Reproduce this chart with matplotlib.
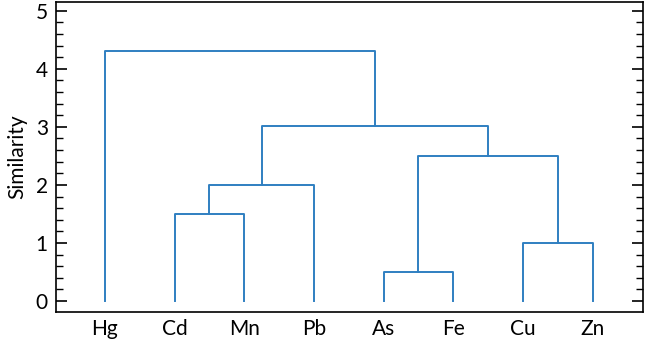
import numpy as np
import matplotlib.pyplot as plt
from matplotlib.ticker import MultipleLocator

plt.rcParams['font.family'] = ['Lato', 'DejaVu Sans']

leaves = ['Hg', 'Cd', 'Mn', 'Pb', 'As', 'Fe', 'Cu', 'Zn']
# merges: (left node, right node, height); new nodes get ids 8, 9, ...
merges = [
    ('As', 'Fe', 0.5),
    ('Cu', 'Zn', 1.0),
    ('Cd', 'Mn', 1.5),
    (10, 'Pb', 2.0),
    (8, 9, 2.5),
    (11, 12, 3.02),
    ('Hg', 13, 4.31),
]

color = '#2f7fc1'

fig, ax = plt.subplots(figsize=(6.46, 3.41), dpi=100)
fig.subplots_adjust(left=0.087, right=0.995, top=0.994, bottom=0.085)

pos = {name: (i + 1, 0.0) for i, name in enumerate(leaves)}
for k, (a, b, h) in enumerate(merges):
    xa, ya = pos[a]
    xb, yb = pos[b]
    ax.plot([xa, xa, xb, xb], [ya, h, h, yb], color=color, linewidth=1.4)
    pos[len(leaves) + k] = ((xa + xb) / 2, h)

ax.set_xlim(0.3, 8.72)
ax.set_ylim(-0.19, 5.15)
ax.set_xticks(range(1, len(leaves) + 1))
ax.set_xticklabels(leaves, fontsize=15)
ax.tick_params(axis='x', length=0, pad=5)
ax.yaxis.set_major_locator(MultipleLocator(1))
ax.yaxis.set_minor_locator(MultipleLocator(0.2))
ax.tick_params(axis='y', which='major', direction='in', length=8, width=1.2,
               left=True, right=True, labelsize=15, pad=6)
ax.tick_params(axis='y', which='minor', direction='in', length=5, width=1.0,
               left=True, right=True)
ax.set_ylabel('Similarity', fontsize=15, labelpad=6)

for s in ax.spines.values():
    s.set_linewidth(1.2)

plt.savefig('out.png', dpi=100)
